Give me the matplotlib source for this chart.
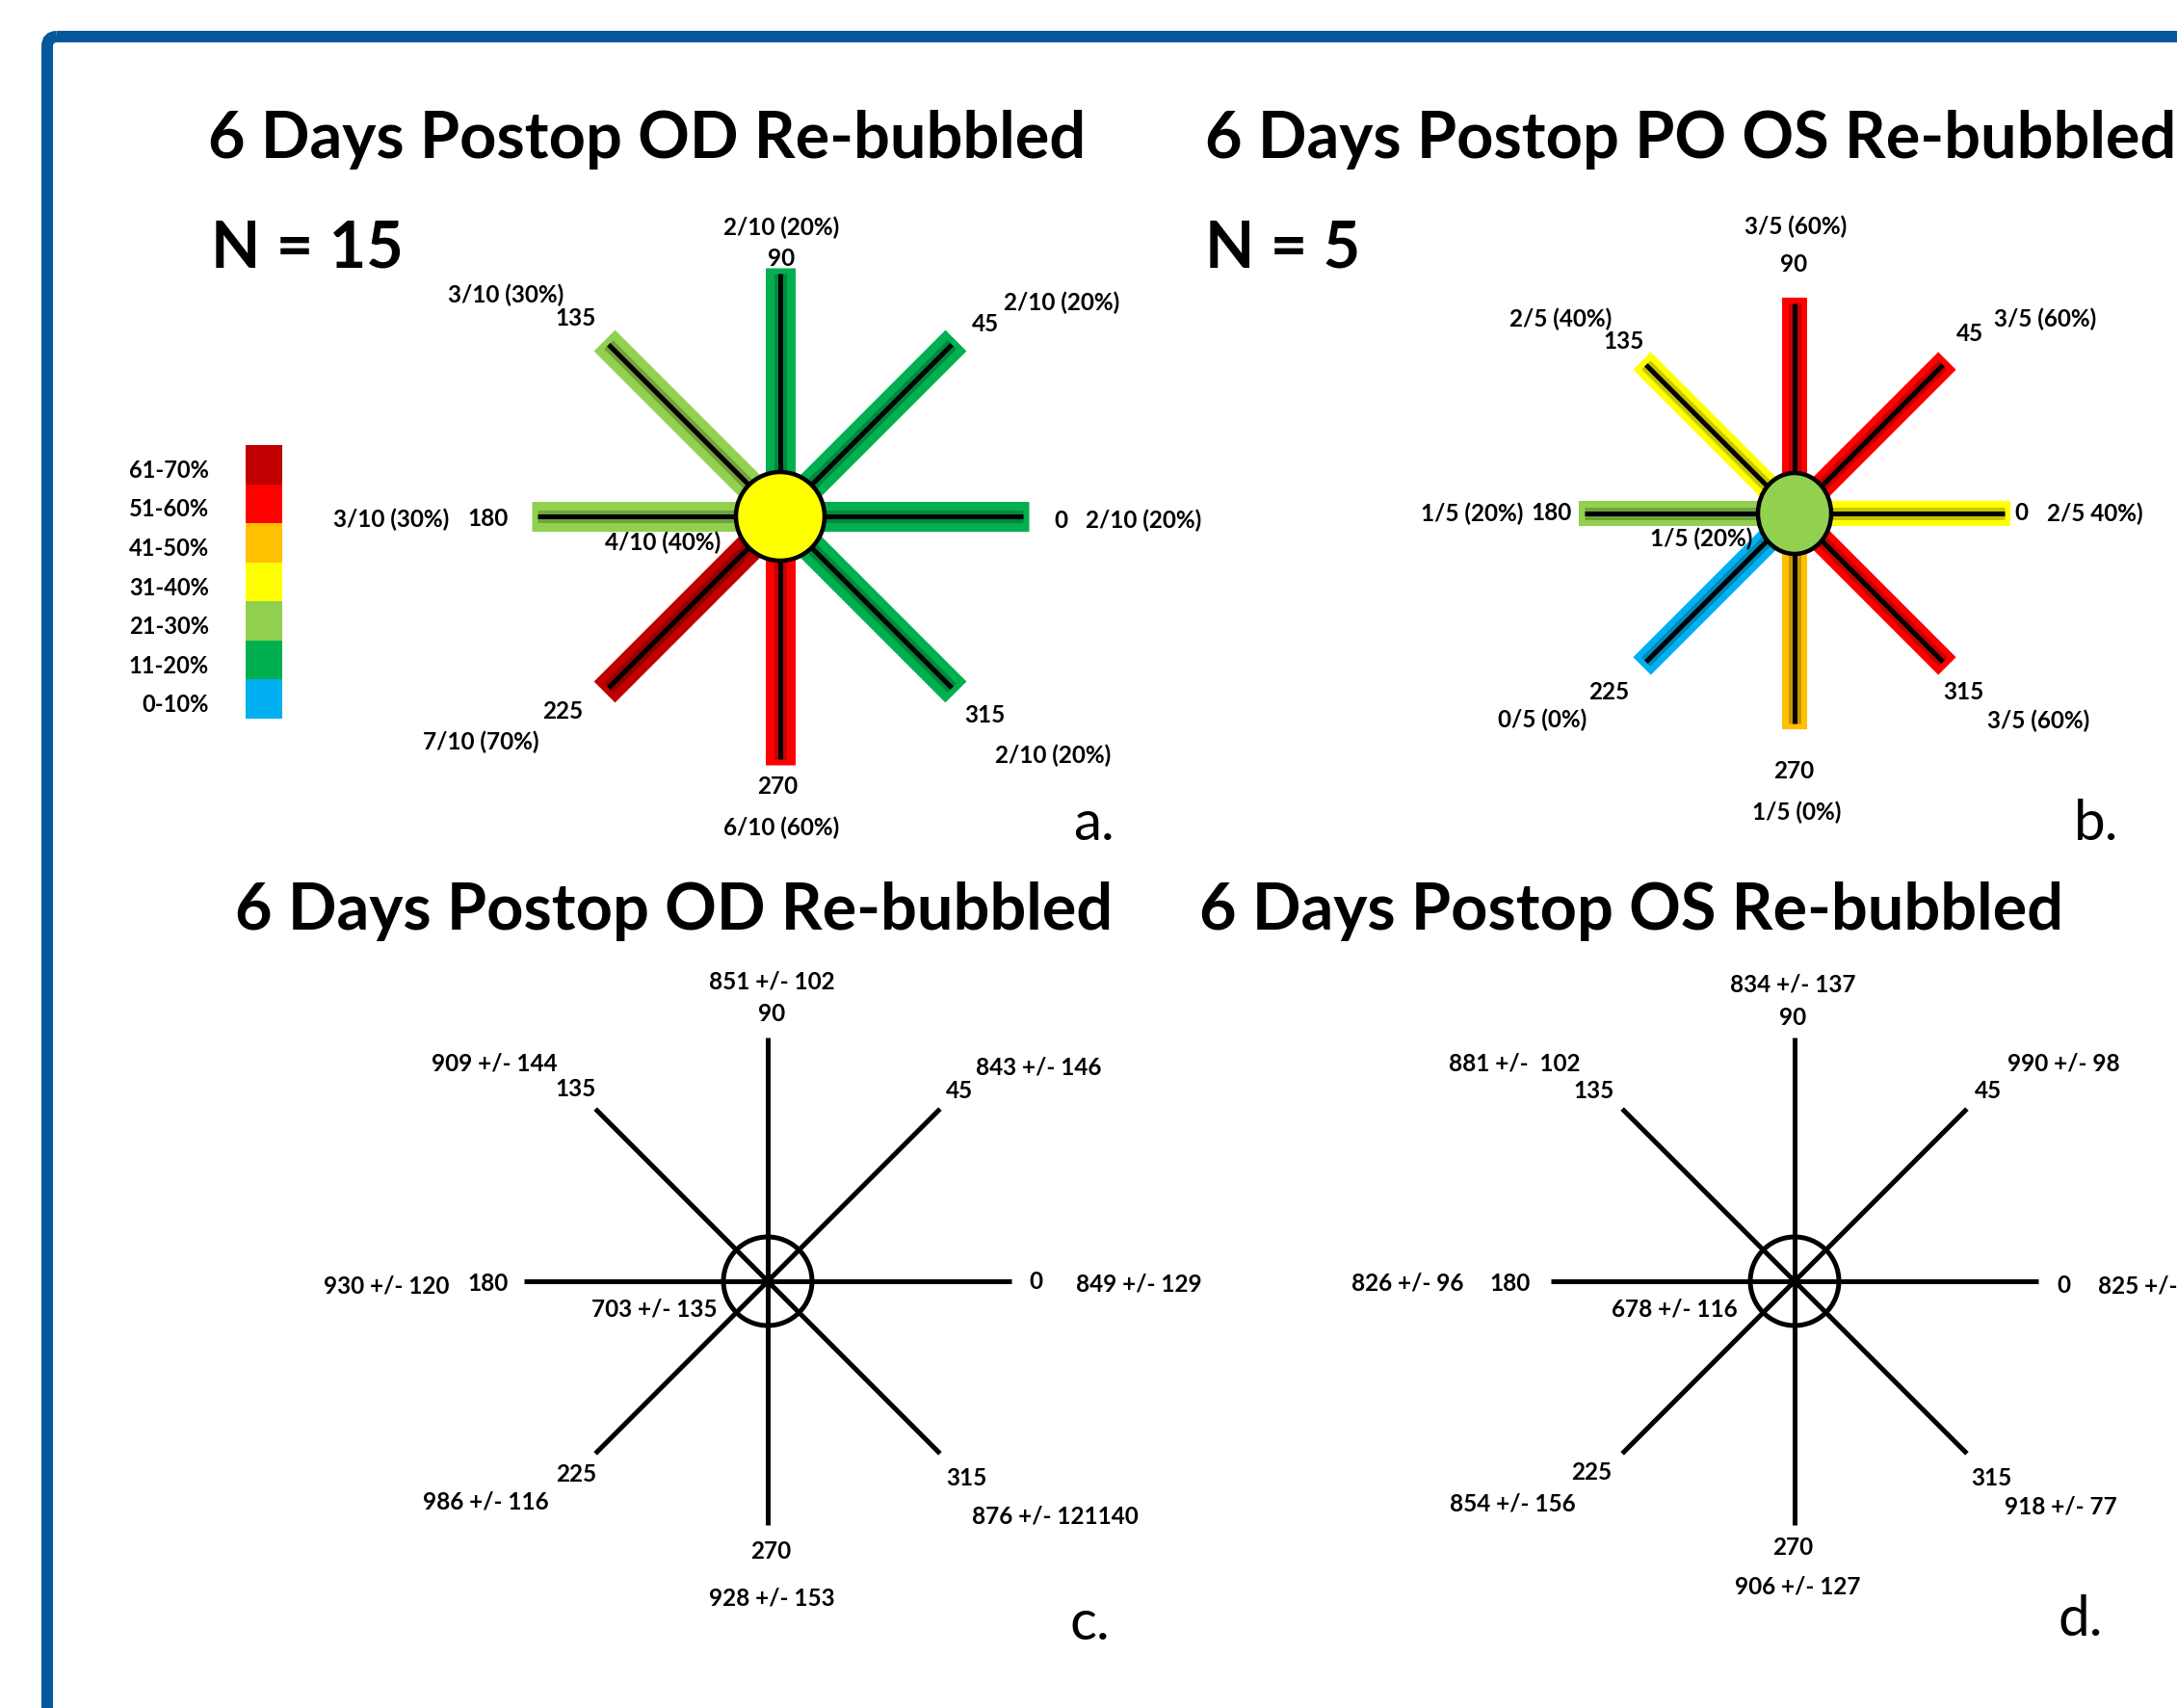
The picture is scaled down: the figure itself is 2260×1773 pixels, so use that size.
import numpy as np
import matplotlib
matplotlib.use('Agg')
import matplotlib.pyplot as plt
from matplotlib.patches import Ellipse, Rectangle, FancyBboxPatch

# faixas de cor (legenda)
faixas = ['61-70%', '51-60%', '41-50%', '31-40%', '21-30%', '11-20%', '0-10%']
cores_faixa = ['#C00000', '#FF0000', '#FFC000', '#FFFF00', '#92D050', '#00B050', '#00B0F0']

angulos = [0, 45, 90, 135, 180, 225, 270, 315]

# painel a - OD, proporcao por meridiano
a_valores = ['2/10 (20%)', '2/10 (20%)', '2/10 (20%)', '3/10 (30%)',
             '3/10 (30%)', '7/10 (70%)', '6/10 (60%)', '2/10 (20%)']
a_faixas = ['11-20%', '11-20%', '11-20%', '21-30%', '21-30%', '61-70%', '51-60%', '11-20%']
a_centro = '4/10 (40%)'
a_centro_faixa = '31-40%'

# painel b - PO OS
b_valores = ['2/5 40%)', '3/5 (60%)', '3/5 (60%)', '2/5 (40%)',
             '1/5 (20%)', '0/5 (0%)', '1/5 (0%)', '3/5 (60%)']
b_faixas = ['31-40%', '51-60%', '51-60%', '31-40%', '21-30%', '0-10%', '41-50%', '51-60%']
b_centro = '1/5 (20%)'
b_centro_faixa = '21-30%'

# paineis c e d - media +/- dp
c_valores = ['849 +/- 129', '843 +/- 146', '851 +/- 102', '909 +/- 144',
             '930 +/- 120', '986 +/- 116', '928 +/- 153', '876 +/- 121140']
c_centro = '703 +/- 135'
d_valores = ['825 +/-', '990 +/- 98', '834 +/- 137', '881 +/-  102',
             '826 +/- 96', '854 +/- 156', '906 +/- 127', '918 +/- 77']
d_centro = '678 +/- 116'

# ---- layout (pixels) ----
W, H = 2260, 1773
PX = 0.72  # 1 px em pontos (dpi 100)

paineis = {
    'a': dict(centro=(810, 536), raio=258, largura=31, circ=(46, 46),
              off_ang=[(291, 5), (213, -200), (1, -268), (-212, -205), (-303, 3), (-226, 203), (-3, 280), (212, 206)],
              off_val=[(377, 4), (292, -222), (1, -300), (-285, -230), (-404, 3), (-311, 234), (1, 323), (283, 248)],
              off_centro=(-122, 27), off_tag=(325, 319)),
    'b': dict(centro=(1863, 533), raio=224, largura=26, circ=(38, 42),
              off_ang=[(235, 0), (182, -186), (-1, -258), (-177, -178), (-252, 0), (-193, 185), (-1, 267), (175, 186)],
              off_val=[(312, 0), (260, -202), (1, -298), (-243, -202), (-335, 0), (-262, 214), (2, 310), (253, 215)],
              off_centro=(-97, 26), off_tag=(313, 322)),
    'c': dict(centro=(797, 1330), raio=253, circ=(46, 46),
              off_ang=[(278, 0), (199, -197), (4, -278), (-199, -199), (-290, 3), (-199, 201), (3, 280), (206, 205)],
              off_val=[(385, 3), (281, -222), (4, -311), (-284, -226), (-396, 5), (-293, 229), (4, 329), (298, 244)],
              off_centro=(-118, 29), off_tag=(334, 356)),
    'd': dict(centro=(1863, 1330), raio=253, circ=(46, 46),
              off_ang=[(279, 5), (201, -197), (-2, -274), (-208, -197), (-295, 3), (-211, 199), (-2, 276), (204, 205)],
              off_val=[(356, 5), (279, -226), (-2, -308), (-291, -226), (-402, 2), (-293, 231), (3, 317), (276, 234)],
              off_centro=(-125, 29), off_tag=(297, 351)),
}

plt.rcParams['font.family'] = ['Lato', 'DejaVu Sans']
fs_pequeno = 17.5
fs_titulo = 48

fig = plt.figure(figsize=(W / 100, H / 100), dpi=100)
ax = fig.add_axes([0, 0, 1, 1])
ax.set_xlim(0, W)
ax.set_ylim(H, 0)
ax.axis('off')

# moldura azul
ax.add_patch(FancyBboxPatch((49, 38), 2400, 2000, boxstyle='round,pad=0,rounding_size=10',
                            fill=False, ec='#05599A', lw=12 * PX, zorder=1))

cor_de = dict(zip(faixas, cores_faixa))


def ponta(centro, ang, r):
    t = np.deg2rad(ang)
    return centro[0] + r * np.cos(t), centro[1] - r * np.sin(t)


def rotulos(p, valores, centro_txt, tag):
    cx, cy = p['centro']
    for ang, val, oa, ov in zip(angulos, valores, p['off_ang'], p['off_val']):
        ax.text(cx + oa[0], cy + oa[1], str(ang), ha='center', va='center',
                fontsize=fs_pequeno, fontweight='bold', zorder=6)
        ax.text(cx + ov[0], cy + ov[1], val, ha='center', va='center',
                fontsize=fs_pequeno, fontweight='bold', zorder=6)
    ax.text(cx + p['off_centro'][0], cy + p['off_centro'][1], centro_txt, ha='center', va='center',
            fontsize=fs_pequeno, fontweight='bold', zorder=6)
    ax.text(cx + p['off_tag'][0], cy + p['off_tag'][1], tag, ha='center', va='center',
            fontsize=42, zorder=6)


def estrela_colorida(p, faixas_raios, faixa_centro):
    c = p['centro']
    for ang, fx in zip(angulos, faixas_raios):
        x1, y1 = ponta(c, ang, p['raio'])
        ax.plot([c[0], x1], [c[1], y1], color=cor_de[fx], lw=p['largura'] * PX,
                solid_capstyle='butt', zorder=2)
    for ang in angulos:
        x1, y1 = ponta(c, ang, p['raio'] - 6)
        ax.plot([c[0], x1], [c[1], y1], color='black', lw=13 * PX, alpha=0.22,
                solid_capstyle='butt', zorder=3)
        ax.plot([c[0], x1], [c[1], y1], color='black', lw=5 * PX,
                solid_capstyle='butt', zorder=3)
    ax.add_patch(Ellipse(c, 2 * p['circ'][0], 2 * p['circ'][1], fc=cor_de[faixa_centro],
                         ec='black', lw=4.5 * PX, zorder=4))


def estrela_simples(p):
    c = p['centro']
    for ang in angulos:
        x1, y1 = ponta(c, ang, p['raio'])
        ax.plot([c[0], x1], [c[1], y1], color='black', lw=5 * PX,
                solid_capstyle='butt', zorder=3)
    ax.add_patch(Ellipse(c, 2 * p['circ'][0], 2 * p['circ'][1], fc='none',
                         ec='black', lw=5 * PX, zorder=4))


estrela_colorida(paineis['a'], a_faixas, a_centro_faixa)
rotulos(paineis['a'], a_valores, a_centro, 'a.')
estrela_colorida(paineis['b'], b_faixas, b_centro_faixa)
rotulos(paineis['b'], b_valores, b_centro, 'b.')
estrela_simples(paineis['c'])
rotulos(paineis['c'], c_valores, c_centro, 'c.')
estrela_simples(paineis['d'])
rotulos(paineis['d'], d_valores, d_centro, 'd.')

# titulos
ax.text(672, 145, '6 Days Postop OD Re-bubbled', ha='center', va='center',
        fontsize=fs_titulo, fontweight='bold')
ax.text(1251, 145, '6 Days Postop PO OS Re-bubbled', ha='left', va='center',
        fontsize=fs_titulo, fontweight='bold')
ax.text(700, 946, '6 Days Postop OD Re-bubbled', ha='center', va='center',
        fontsize=fs_titulo, fontweight='bold')
ax.text(1694, 946, '6 Days Postop OS Re-bubbled', ha='center', va='center',
        fontsize=fs_titulo, fontweight='bold')
ax.text(219, 259, 'N = 15', ha='left', va='center', fontsize=fs_titulo, fontweight='bold')
ax.text(1251, 259, 'N = 5', ha='left', va='center', fontsize=fs_titulo, fontweight='bold')

# legenda de cores
topo, alt = 462, 284 / len(faixas)
for i, (fx, cor) in enumerate(zip(faixas, cores_faixa)):
    y0 = topo + i * alt
    ax.add_patch(Rectangle((255, y0), 38, alt, fc=cor, ec='none', zorder=2))
    ax.text(217, y0 + alt / 2 + 6, fx, ha='right', va='center',
            fontsize=17, fontweight='bold')

fig.savefig('out.png', dpi=100)
